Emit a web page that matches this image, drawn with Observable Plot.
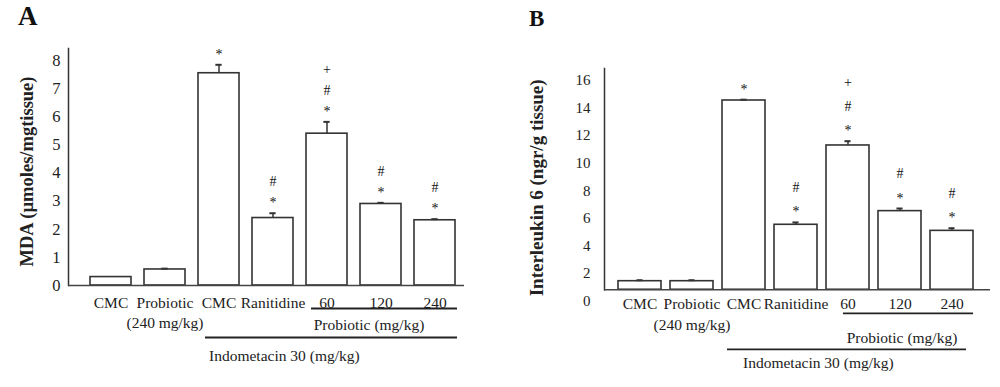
<!DOCTYPE html>
<html><head><meta charset="utf-8">
<script src="https://cdn.jsdelivr.net/npm/d3@7"></script>
<script src="https://cdn.jsdelivr.net/npm/@observablehq/plot@0.6"></script>
<style>
body{margin:0;background:#fff;}
#wrap{position:relative;width:1000px;height:387px;display:flex;}
.panel{position:relative;width:500px;height:387px;}
.tag{position:absolute;font-family:"Liberation Serif",serif;font-weight:bold;color:#111;line-height:1;}
svg{overflow:visible;}
</style></head><body>
<div id="wrap">
  <div class="panel" id="pa"><div class="tag" style="left:18px;top:3px;font-size:27px">A</div></div>
  <div class="panel" id="pb"><div class="tag" style="left:29px;top:7px;font-size:23px">B</div></div>
</div>
<script>
// ---- data ----
const groupIds = ["cmc", "probiotic", "indoCmc", "ranitidine", "p60", "p120", "p240"];
const groupLabels = ["CMC", "Probiotic\n(240 mg/kg)", "CMC", "Ranitidine", "60", "120", "240"];
const mdaMean = [0.30, 0.57, 7.55, 2.40, 5.40, 2.90, 2.32];
const mdaSem = [0, 0.03, 0.30, 0.17, 0.42, 0.04, 0.04];
const il6Mean = [1.45, 1.45, 14.55, 5.54, 11.29, 6.53, 5.10];
const il6Sem = [0.07, 0.07, 0.06, 0.17, 0.31, 0.19, 0.19];
const sigMarks = ["", "", "*", "#\n*", "+\n#\n*", "#\n*", "#\n*"];
const yTicksA = [0, 1, 2, 3, 4, 5, 6, 7, 8];
const yTicksB = [0, 2, 4, 6, 8, 10, 12, 14, 16];
const titleA = "MDA (µmoles/mgtissue)";
const titleB = "Interleukin 6 (ngr/g tissue)";
const subGroupLabel = "Probiotic (mg/kg)";
const mainGroupLabel = "Indometacin 30 (mg/kg)";

const FONT = '"Liberation Serif", "Times New Roman", serif';
const INK = "#222";

function panel(cfg) {
  const rows = groupIds.map((id, i) => ({id, label: groupLabels[i], mean: cfg.mean[i], sem: cfg.sem[i], sig: sigMarks[i]}));
  const base = cfg.base;
  const L = cfg.lay;
  const halfCap = L.bw / 2 - 3;
  return Plot.plot({
    width: 500, height: 387,
    marginLeft: cfg.marginLeft, marginRight: cfg.marginRight,
    marginTop: cfg.marginTop, marginBottom: cfg.marginBottom,
    style: {fontFamily: FONT, fontSize: "15.5px", color: INK, background: "transparent", overflow: "visible"},
    x: {domain: groupIds, type: "band", paddingInner: cfg.padIn, paddingOuter: cfg.padOut, align: cfg.align, axis: null},
    y: {domain: cfg.yDomain, axis: null},
    marks: [
      Plot.frame({anchor: "left", stroke: "#333", strokeWidth: 1.5, insetBottom: cfg.frameInsetBottom}),
      Plot.axisY({ticks: cfg.yTicks, tickSize: 0, tickPadding: cfg.tickPad, fontSize: cfg.tickFont, label: null, fill: INK}),
      Plot.text([cfg.title], {frameAnchor: "left", textAnchor: "middle", rotate: -90, dx: cfg.titleDx, dy: cfg.titleDy, fontWeight: "bold", fontSize: cfg.titleFont, fill: INK}),
      Plot.barY(rows, {x: "id", y1: () => base, y2: "mean", fill: "white", stroke: "#333", strokeWidth: 1.6}),
      Plot.ruleY([base], {stroke: "#444", strokeWidth: 1.6}),
      Plot.ruleX(rows.filter(d => d.sem > 0), {x: "id", y1: "mean", y2: d => d.mean + d.sem, stroke: "#333", strokeWidth: 1.5}),
      Plot.tickY(rows.filter(d => d.sem > 0), {x: "id", y: d => d.mean + d.sem, insetLeft: halfCap, insetRight: halfCap, stroke: "#333", strokeWidth: 2}),
      Plot.text(rows, {x: "id", y: d => d.mean + d.sem, text: "sig", lineAnchor: "bottom", dy: -6, fontSize: 14, lineHeight: cfg.sigLine, fill: "#111"}),
      Plot.text(rows, {x: "id", y: () => base, text: "label", lineAnchor: "top", dy: cfg.labelDy, lineHeight: cfg.labelLine, fill: INK}),
      Plot.ruleY([{a: "p60", b: "p240"}], {x1: "a", x2: "b", y: () => base, dy: L.subLineDy, insetLeft: L.subInL, insetRight: L.subInR, stroke: "#222", strokeWidth: 1.8}),
      Plot.text([{x: "p120", t: subGroupLabel}], {x: "x", y: () => base, text: "t", dx: L.subTextDx, dy: L.subTextDy, fill: INK}),
      Plot.ruleY([{a: "indoCmc", b: "p240"}], {x1: "a", x2: "b", y: () => base, dy: L.mainLineDy, insetLeft: L.mainInL, insetRight: L.mainInR, stroke: "#222", strokeWidth: 1.8}),
      Plot.text([{x: "indoCmc", t: mainGroupLabel}], {x: "x", y: () => base, text: "t", textAnchor: "start", dx: L.mainTextDx, dy: L.mainTextDy, fill: INK})
    ]
  });
}

document.getElementById("pa").append(panel({
  mean: mdaMean, sem: mdaSem, base: 0, yDomain: [0, 8.43], yTicks: yTicksA,
  marginLeft: 68, marginRight: 36, marginTop: 48, marginBottom: 102,
  padIn: 0.25, padOut: 0.27, align: 0.69, frameInsetBottom: 0,
  tickPad: 8, tickFont: 16.5, title: titleA, titleDx: -41, titleDy: 4.5, titleFont: 18.5,
  sigLine: 1.5, labelDy: 8.4, labelLine: 1.29,
  lay: {bw: 40.7, subLineDy: 23, subInL: 5, subInR: -2, subTextDx: -12, subTextDy: 40,
        mainLineDy: 52, mainInL: 7, mainInR: -2, mainTextDx: -10, mainTextDy: 71}
}));

document.getElementById("pb").append(panel({
  mean: il6Mean, sem: il6Sem, base: 0.83, yDomain: [0, 16.87], yTicks: yTicksB,
  marginLeft: 104, marginRight: 10, marginTop: 68, marginBottom: 86.3,
  padIn: 0.18, padOut: 0.278, align: 0.44, frameInsetBottom: 11.4,
  tickPad: 14, tickFont: 15, title: titleB, titleDx: -68, titleDy: 3, titleFont: 19,
  sigLine: 1.72, labelDy: 4.3, labelLine: 1.35,
  lay: {bw: 42.9, subLineDy: 23.7, subInL: 17, subInR: 0, subTextDx: 2, subTextDy: 48.7,
        mainLineDy: 59.7, mainInL: 5, mainInR: 7, mainTextDx: -1, mainTextDy: 73.7}
}));
</script>
</body></html>
